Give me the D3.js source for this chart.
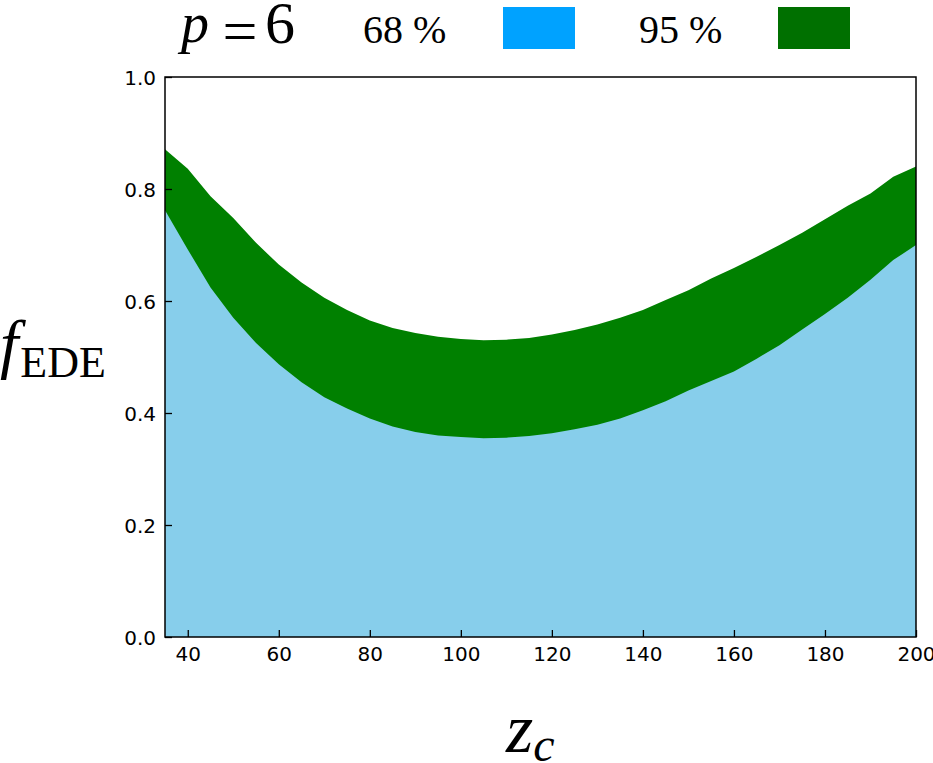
<!DOCTYPE html>
<html>
<head>
<meta charset="utf-8">
<script src="https://cdn.jsdelivr.net/npm/d3@7"></script>
<style>
  html, body { margin: 0; padding: 0; background: #fff; }
  svg { display: block; }
</style>
</head>
<body>
<svg id="chart" width="933" height="763"></svg>
<script>
// ---- data ----
const zc = [35, 40, 45, 50, 55, 60, 65, 70, 75, 80, 85, 90, 95, 100, 105, 110, 115, 120,
            125, 130, 135, 140, 145, 150, 155, 160, 165, 170, 175, 180, 185, 190, 195, 200];
const upper95 = [0.871, 0.836, 0.787, 0.748, 0.704, 0.665, 0.633, 0.606, 0.584, 0.565, 0.552, 0.543,
                 0.536, 0.532, 0.530, 0.531, 0.534, 0.540, 0.548, 0.558, 0.570, 0.584, 0.602, 0.619,
                 0.640, 0.659, 0.679, 0.700, 0.722, 0.746, 0.770, 0.792, 0.822, 0.840];
const upper68 = [0.762, 0.692, 0.624, 0.570, 0.525, 0.487, 0.455, 0.428, 0.408, 0.390, 0.376, 0.366,
                 0.360, 0.357, 0.355, 0.356, 0.359, 0.364, 0.371, 0.379, 0.390, 0.405, 0.421, 0.440,
                 0.457, 0.474, 0.497, 0.521, 0.549, 0.577, 0.606, 0.638, 0.673, 0.700];
const xTicks = [40, 60, 80, 100, 120, 140, 160, 180, 200];
const yTicks = [0.0, 0.2, 0.4, 0.6, 0.8, 1.0];
const legendItems = [{label: "68 %", color: "#00a2ff"}, {label: "95 %", color: "#007000"}];

// ---- layout ----
const svg = d3.select("#chart");
const L = 165, R = 916, T = 77, B = 637;
const x = d3.scaleLinear().domain([35, 200]).range([L, R]);
const y = d3.scaleLinear().domain([0, 1]).range([B, T]);

const rows = zc.map((z, i) => ({z, u95: upper95[i], u68: upper68[i]}));

svg.append("path")
  .datum(rows)
  .attr("fill", "#008000")
  .attr("d", d3.area().x(d => x(d.z)).y0(y(0)).y1(d => y(d.u95)));
svg.append("path")
  .datum(rows)
  .attr("fill", "#87ceeb")
  .attr("d", d3.area().x(d => x(d.z)).y0(y(0)).y1(d => y(d.u68)));

// axes (ticks inward)
const fontTick = "DejaVu Sans, sans-serif";
const xAxis = d3.axisBottom(x).tickValues(xTicks).tickSizeInner(-7).tickSizeOuter(0).tickPadding(10)
  .tickFormat(d3.format("d"));
const yAxis = d3.axisLeft(y).tickValues(yTicks).tickSizeInner(-7).tickSizeOuter(0).tickPadding(9)
  .tickFormat(d3.format(".1f"));

const gx = svg.append("g").attr("transform", `translate(0,${B})`).call(xAxis);
const gy = svg.append("g").attr("transform", `translate(${L},0)`).call(yAxis);
[gx, gy].forEach(g => {
  g.select(".domain").remove();
  g.selectAll(".tick line").attr("stroke", "#000").attr("stroke-width", 1.3);
  g.selectAll(".tick text").attr("font-family", fontTick).attr("font-size", 20).attr("fill", "#000");
});
gx.selectAll(".tick text").attr("dy", "0.71em");
gy.selectAll(".tick text").attr("dy", "0.35em");

// frame
svg.append("rect")
  .attr("x", L).attr("y", T).attr("width", R - L).attr("height", B - T)
  .attr("fill", "none").attr("stroke", "#000").attr("stroke-width", 1.5);

// legend
const serif = "Liberation Serif, Times New Roman, serif";
svg.append("text").attr("x", 181).attr("y", 42)
  .attr("font-family", serif).attr("font-size", 56).attr("font-style", "italic")
  .attr("fill", "#000").text("p");
svg.append("text").attr("x", 240).attr("y", 52).attr("text-anchor", "middle")
  .attr("font-family", serif).attr("font-size", 62)
  .attr("fill", "#000").text("=");
svg.append("text").attr("x", 265).attr("y", 43)
  .attr("font-family", serif).attr("font-size", 60)
  .attr("fill", "#000").text("6");

const legendX = [363, 639];
const patchX = [503, 778];
legendItems.forEach((d, i) => {
  svg.append("text").attr("x", legendX[i]).attr("y", 43)
    .attr("font-family", serif).attr("font-size", 40).attr("fill", "#000").text(d.label);
  svg.append("rect").attr("x", patchX[i]).attr("y", 7).attr("width", 72).attr("height", 42)
    .attr("fill", d.color);
});

// y label
const yl = svg.append("text").attr("x", 0).attr("y", 366)
  .attr("font-family", serif).attr("fill", "#000");
yl.append("tspan").attr("font-style", "italic").attr("font-size", 66).text("f");
yl.append("tspan").attr("font-size", 44).attr("dx", 2).attr("dy", 11).text("EDE");

// x label
const xl = svg.append("text").attr("x", 506).attr("y", 752)
  .attr("font-family", serif).attr("fill", "#000");
xl.append("tspan").attr("font-style", "italic").attr("font-size", 70).text("z");
xl.append("tspan").attr("font-style", "italic").attr("font-size", 48).attr("dy", 9).text("c");
</script>
</body>
</html>
